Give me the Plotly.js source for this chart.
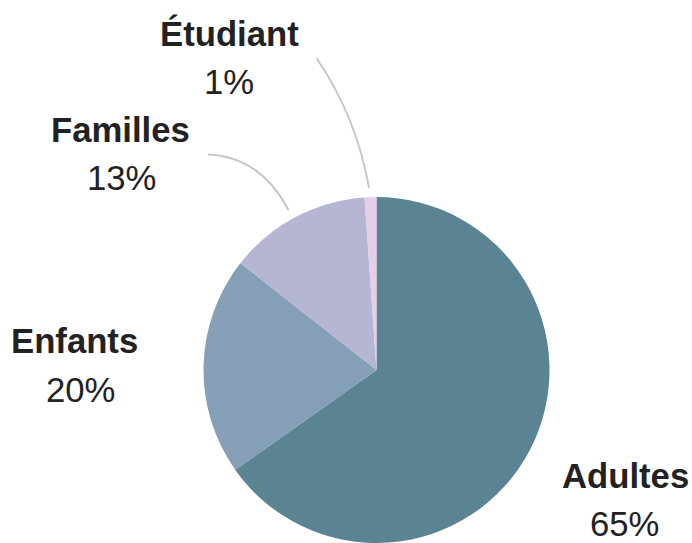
<!DOCTYPE html>
<html>
<head>
<meta charset="utf-8">
<script src="https://cdn.plot.ly/plotly-3.0.1.min.js"></script>
<style>html,body{margin:0;padding:0;background:#fff;overflow:hidden}#chart{width:692px;height:543px}</style>
</head>
<body>
<div id="chart"></div>
<script>
const categories = ["Adultes", "Enfants", "Familles", "Étudiant"];
const values = [65.2, 20.4, 13.3, 1.1];
const colors = ["#5a8494", "#859fb6", "#b5b6d4", "#e6cee8"];

const W = 692, H = 543;
const px = x => x / W;
const py = y => 1 - y / H;

// label placement (pixel centres) for name and percentage lines
const labelPos = [
  {nx: 625, ny: 476, vx: 624, vy: 524},
  {nx: 74.5, ny: 341, vx: 80, vy: 390},
  {nx: 120, ny: 130, vx: 121, vy: 178},
  {nx: 230, ny: 33.5, vx: 229, vy: 81.5}
];

const total = values.reduce((a, b) => a + b, 0);
const annotations = [];
categories.forEach((c, i) => {
  const p = labelPos[i];
  annotations.push({
    xref: 'paper', yref: 'paper', x: px(p.nx), y: py(p.ny),
    xanchor: 'center', yanchor: 'middle', showarrow: false,
    text: '<b>' + c + '</b>',
    font: {family: 'Liberation Sans, Arial, sans-serif', size: 34.7, color: '#222222'}
  });
  annotations.push({
    xref: 'paper', yref: 'paper', x: px(p.vx), y: py(p.vy),
    xanchor: 'center', yanchor: 'middle', showarrow: false,
    text: Math.round(values[i] / total * 100) + '%',
    font: {family: 'Liberation Sans, Arial, sans-serif', size: 34.7, color: '#222222'}
  });
});

function curve(p0, c, p1) {
  return 'M' + px(p0[0]) + ',' + py(p0[1]) + ' Q' + px(c[0]) + ',' + py(c[1]) + ' ' + px(p1[0]) + ',' + py(p1[1]);
}

const shapes = [
  {type: 'path', xref: 'paper', yref: 'paper', path: curve([208, 154.5], [261, 157], [288.5, 210]),
   line: {color: '#c8c8c8', width: 2}},
  {type: 'path', xref: 'paper', yref: 'paper', path: curve([316.5, 58], [357, 118], [369, 188]),
   line: {color: '#c8c8c8', width: 2}}
];

const cx = 376.5, r = 173;
const data = [{
  type: 'pie',
  labels: categories,
  values: values,
  sort: false,
  direction: 'clockwise',
  rotation: 0,
  marker: {colors: colors, line: {width: 0}},
  textinfo: 'none',
  hoverinfo: 'label+percent',
  showlegend: false,
  domain: {x: [px(cx - r), px(cx + r)], y: [0, py(H - 2 * r)]}
}];

const layout = {
  width: W, height: H,
  margin: {l: 0, r: 0, t: 0, b: 0},
  paper_bgcolor: '#ffffff',
  showlegend: false,
  annotations: annotations,
  shapes: shapes
};

Plotly.newPlot('chart', data, layout, {displayModeBar: false, staticPlot: true});
</script>
</body>
</html>
